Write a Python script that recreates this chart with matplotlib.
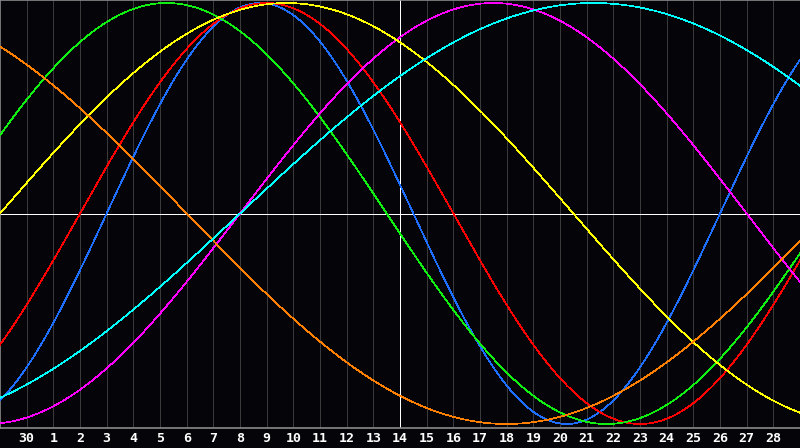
import numpy as np
import matplotlib
matplotlib.use("Agg")
import matplotlib.pyplot as plt

# Cycle data
periods = [23, 28, 33, 38, 43, 48, 53]            # cycle length in days
day_in_cycle = [19, 25, 2, 29, 0, 17, 44]         # position in cycle at left edge
colors = ["#1e6eff", "#ff0000", "#11ee11", "#ff00ff", "#ffff00", "#ff7f00", "#00ffff"]
tick_labels = ["30"] + [str(i) for i in range(1, 29)]
n_days = 30

BG = "#050408"
fig = plt.figure(figsize=(8, 4.48), dpi=100, facecolor=BG)
ax = fig.add_axes([0, 20 / 448, 1, 428 / 448])
ax.set_facecolor(BG)

ax.set_xlim(0, n_days)
ax.set_ylim(-(428 - 213.5) / 210.5, 213.5 / 210.5)

# grid lines
for k in range(1, n_days):
    if k == 15:
        continue
    ax.axvline(k, color="#3a3a3a", lw=0.6, zorder=1, antialiased=False)

ax.axhline(0, color="white", lw=0.6, zorder=2, antialiased=False)
ax.axvline(15, color="white", lw=0.6, zorder=2, antialiased=False)

d = np.linspace(0, n_days, 2000)
for P, ph, c in zip(periods, day_in_cycle, colors):
    ax.plot(d, np.sin(2 * np.pi * (ph + d) / P), color=c, lw=0.5, zorder=3,
            antialiased=False)

for side in ["top", "left", "bottom"]:
    ax.spines[side].set_color("#8a8a8a")
    ax.spines[side].set_linewidth(1.2)
ax.spines["right"].set_visible(False)

ax.set_yticks([])
ax.set_xticks(range(1, n_days))
ax.set_xticklabels(tick_labels, color="white", fontsize=9.5,
                   fontweight="bold", family="DejaVu Sans Mono")
ax.tick_params(axis="x", length=0, pad=3.0)

fig.savefig("out.png", dpi=100, facecolor=BG)
